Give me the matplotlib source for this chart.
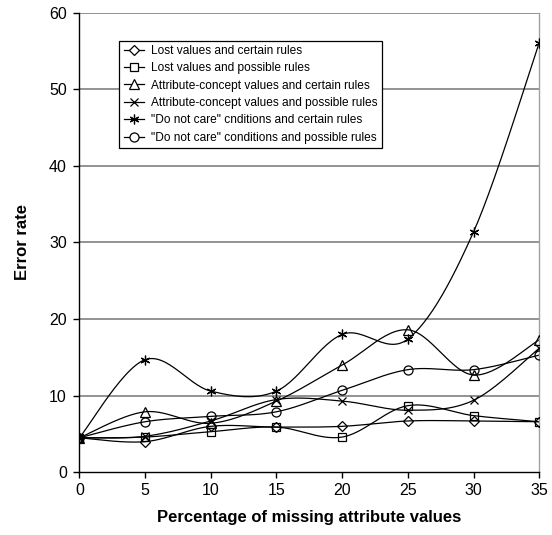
import matplotlib
matplotlib.use("Agg")
import matplotlib.pyplot as plt
from matplotlib.lines import Line2D
import numpy as np

plt.rcParams['font.family'] = ['Liberation Sans', 'DejaVu Sans']

# percentage of missing attribute values
pct = [0, 5, 10, 15, 20, 25, 30, 35]

# error rates per method
lost_certain = [4.5, 4.0, 6.0, 5.9, 6.0, 6.7, 6.7, 6.6]
lost_possible = [4.5, 4.6, 5.3, 5.9, 4.6, 8.7, 7.4, 6.6]
ac_certain = [4.5, 7.9, 6.4, 9.3, 14.0, 18.6, 12.7, 17.3]
ac_possible = [4.5, 4.7, 6.7, 9.5, 9.3, 8.1, 9.4, 16.2]
dnc_certain = [4.5, 14.7, 10.6, 10.6, 18.0, 17.4, 31.4, 56.1]
dnc_possible = [4.5, 6.6, 7.3, 7.9, 10.7, 13.4, 13.4, 15.3]

labels = [
    "Lost values and certain rules",
    "Lost values and possible rules",
    "Attribute-concept values and certain rules",
    "Attribute-concept values and possible rules",
    '"Do not care" cnditions and certain rules',
    '"Do not care" conditions and possible rules',
]
series = [lost_certain, lost_possible, ac_certain, ac_possible, dnc_certain, dnc_possible]
markers = ["D", "s", "^", "x", (6, 2, 0), "o"]
msizes = [5, 6, 6.5, 6, 7, 6.5]


def smooth(x, y, n=30):
    # spreadsheet-style smoothed line: cubic bezier through every point
    x = np.asarray(x, float)
    y = np.asarray(y, float)
    px = np.concatenate([[x[0]], x, [x[-1]]])
    py = np.concatenate([[y[0]], y, [y[-1]]])
    t = np.linspace(0, 1, n)[:, None]
    xs, ys = [], []
    for i in range(1, len(x)):
        p0 = np.array([px[i], py[i]])
        p3 = np.array([px[i + 1], py[i + 1]])
        c1 = p0 + (np.array([px[i + 1], py[i + 1]]) - np.array([px[i - 1], py[i - 1]])) / 6
        c2 = p3 - (np.array([px[i + 2], py[i + 2]]) - np.array([px[i], py[i]])) / 6
        b = ((1 - t) ** 3) * p0 + 3 * ((1 - t) ** 2) * t * c1 + 3 * (1 - t) * t ** 2 * c2 + t ** 3 * p3
        xs.append(b[:, 0])
        ys.append(b[:, 1])
    return np.concatenate(xs), np.concatenate(ys)


fig = plt.figure(figsize=(5.52, 5.35), dpi=100)
ax = fig.add_axes([0.1437, 0.1172, 0.8333, 0.8591])

for v in range(10, 70, 10):
    ax.axhline(v, color="#808080", lw=1.2, zorder=1)

handles = []
for vals, lab, m, ms in zip(series, labels, markers, msizes):
    sx, sy = smooth(pct, vals)
    ax.plot(sx, sy, color="black", lw=0.9, zorder=2)
    ax.plot(pct, vals, ls="none", marker=m, ms=ms, mfc="none", mec="black", mew=0.9, zorder=3)
    handles.append(Line2D([0], [0], color="black", lw=0.9, marker=m, ms=ms, mfc="white",
                          mec="black", mew=0.9))

ax.set_xlim(0, 35)
ax.set_ylim(0, 60)
ax.set_xticks(pct)
ax.set_yticks(range(0, 70, 10))
ax.tick_params(direction="out", length=4, width=1, labelsize=11.5, pad=5)
ax.tick_params(axis="x", pad=4)

for s in ["left", "bottom"]:
    ax.spines[s].set_color("black")
    ax.spines[s].set_linewidth(1)
ax.spines["top"].set_visible(False)
ax.spines["right"].set_color("#a0a0a0")
ax.spines["right"].set_linewidth(1)

ax.set_xlabel("Percentage of missing attribute values", fontsize=12, fontweight="bold", labelpad=8)
ax.set_ylabel("Error rate", fontsize=12, fontweight="bold", labelpad=14)

leg = ax.legend(handles, labels, loc="upper left", bbox_to_anchor=(0.087, 0.939),
                fontsize=8.6, frameon=True, fancybox=False, handlelength=1.7,
                handletextpad=0.6, labelspacing=0.45, borderpad=0.35, borderaxespad=0)
leg.get_frame().set_edgecolor("black")
leg.get_frame().set_linewidth(0.9)
leg.get_frame().set_alpha(1)

fig.savefig("out.png", dpi=100)
